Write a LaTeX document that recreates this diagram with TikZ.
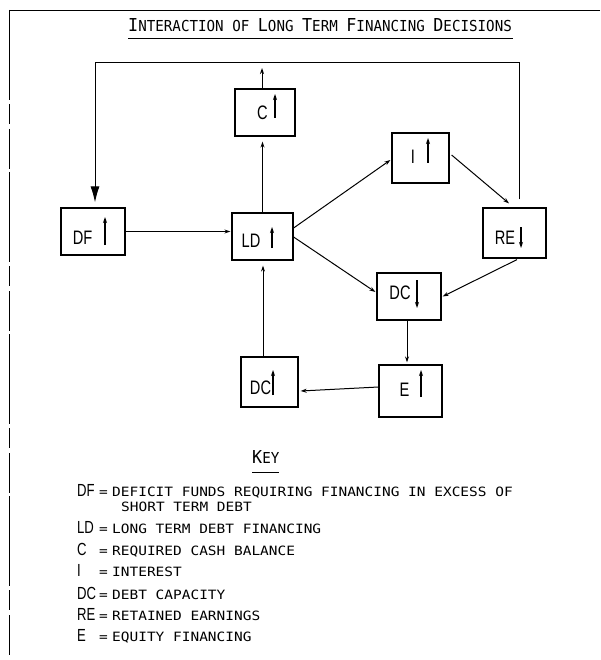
\documentclass[tikz,border=0pt]{standalone}
\usepackage{fontspec}
\setmainfont{Liberation Sans}
\newfontfamily\boxfont[FakeStretch=0.75]{Liberation Sans}
\newfontfamily\titlefont[FakeStretch=0.94]{DejaVu Sans Mono}
\newfontfamily\keyfont[FakeStretch=1.13]{DejaVu Sans Mono}
\usetikzlibrary{arrows.meta}
\newcommand\tbig[1]{{\fontsize{17.8}{18}\selectfont #1}}
\newcommand\tsm[1]{{\fontsize{15.1}{16}\selectfont #1}}
\newcommand\abbr[1]{\makebox[22pt][l]{\boxfont\fontsize{17.5}{17}\selectfont #1}\makebox[13pt][l]{=}}
\newcommand\gap[1]{\rule{#1}{0pt}}
\begin{document}
\begin{tikzpicture}[x=1pt,y=-1pt,
  bx/.style={draw,line width=1.2pt,inner sep=0pt,text height=14pt,text depth=0pt,
    font=\boxfont\fontsize{19.5}{19.5}\selectfont},
  conn/.style={line width=1pt,-{Stealth[length=6pt,width=4pt]}},
  inarr/.style={line width=1.1pt,-{Stealth[length=6pt,width=4pt]}},
  bigarr/.style={line width=1pt,-{Latex[length=16pt,width=9pt]}},
  keyline/.style={anchor=base west,inner sep=0pt,font=\keyfont\fontsize{12.8}{13}\selectfont},
  ttl/.style={anchor=base west,inner sep=0pt,font=\titlefont},
  frame/.style={line width=0.7pt}
]
\useasboundingbox (0,0) rectangle (600,660);
\fill[white] (0,0) rectangle (600,660);

% scan frame
\coordinate (f1) at (600,10);
\coordinate (f2) at (9,10);
\coordinate (f3) at (9,655);
\draw[frame] (f1) -- (f2);
\draw[frame,dash pattern=on 90pt off 4pt on 20pt off 5pt on 40pt off 3pt] (f2) -- (f3);

% title
\node[ttl] (title) at (128,32) {\tbig{I}\tsm{NTERACTION OF }\tbig{L}\tsm{ONG }\tbig{T}\tsm{ERM }\tbig{F}\tsm{INANCING }\tbig{D}\tsm{ECISIONS}};
\coordinate (u1) at (128,39);
\coordinate (u2) at (513,39);
\draw[line width=1pt] (u1) -- (u2);

% boxes
\node[bx,minimum width=60pt,minimum height=47pt] (C) at (265,112.5) {\raisebox{0pt}{C}\gap{5pt}};
\node[bx,minimum width=64pt,minimum height=47pt] (DF) at (93,231.5) {\raisebox{-6pt}{DF}\gap{21pt}};
\node[bx,minimum width=61pt,minimum height=47pt] (LD) at (262.5,236.5) {\raisebox{-4pt}{LD}\gap{23pt}};
\node[bx,minimum width=57pt,minimum height=50pt] (I) at (420.5,158) {\raisebox{1.5pt}{I}\gap{15pt}};
\node[bx,minimum width=63pt,minimum height=50pt] (RE) at (514.5,233) {\raisebox{-4.5pt}{RE}\gap{19pt}};
\node[bx,minimum width=64pt,minimum height=47pt] (DCd) at (409,296.5) {\raisebox{4pt}{DC}\gap{18pt}};
\node[bx,minimum width=63pt,minimum height=52pt] (E) at (410.5,391) {\raisebox{2pt}{E}\gap{12pt}};
\node[bx,minimum width=57pt,minimum height=50pt] (DCu) at (269.5,382) {\raisebox{-5.5pt}{DC}\gap{18pt}};

% arrows inside boxes
\draw[inarr] ([shift={(10,5.5)}]C.center) -- ++(0,-24);
\draw[inarr] ([shift={(12,13.5)}]DF.center) -- ++(0,-28);
\draw[inarr] ([shift={(9.5,11.5)}]LD.center) -- ++(0,-21);
\draw[inarr] ([shift={(7.5,5)}]I.center) -- ++(0,-25);
\draw[inarr] ([shift={(6.5,-6)}]RE.center) -- ++(0,21);
\draw[inarr] ([shift={(8,-16.5)}]DCd.center) -- ++(0,28);
\draw[inarr] ([shift={(10.5,6)}]E.center) -- ++(0,-27);
\draw[inarr] ([shift={(3.5,13)}]DCu.center) -- ++(0,-25);

% feedback loop
\coordinate (tr) at (519,63);
\coordinate (tl) at (95,63);
\draw[bigarr] ([shift={(4.5,-8)}]RE.north) -- (tr) -- (tl) -- ([shift={(2,-5)}]DF.north);

% C output
\coordinate (cout) at (262,68);
\draw[conn] ([xshift=-3pt]C.north) -- (cout);

% connectors
\draw[conn] (LD.north) -- ([shift={(-2.5,5)}]C.south);
\draw[conn] (DF.east) -- ([xshift=-1pt]DF.east -| LD.west);
\draw[conn] ([xshift=-6.5pt]DCu.north) -- ([shift={(0.5,5)}]LD.south);
\draw[conn] ([shift={(0,-8.5)}]LD.east) -- ([shift={(-1,2)}]I.west);
\draw[conn] ([shift={(0,0.5)}]LD.east) -- ([shift={(-1,-4.5)}]DCd.west);
\draw[conn] ([shift={(2,-3)}]I.east) -- ([shift={(-5.5,-4)}]RE.north);
\draw[conn] ([shift={(2.5,1)}]RE.south) -- ([shift={(1,0)}]DCd.east);
\draw[conn] ([xshift=-2pt]DCd.south) -- ([shift={(-3.5,-2)}]E.north);
\draw[conn] ([shift={(0,-4)}]E.west) -- ([xshift=2pt]E.west -| DCu.east);

% key
\node[ttl] (key) at (252,463) {\tbig{K}\tsm{EY}};
\coordinate (k1) at (252,472);
\coordinate (k2) at (279,472);
\draw[line width=1pt] (k1) -- (k2);

\node[keyline] (kDF) at (77,496.7) {\abbr{DF}DEFICIT FUNDS REQUIRING FINANCING IN EXCESS OF};
\node[keyline] (kDF2) at (121,511.7) {SHORT TERM DEBT};
\node[keyline] (kLD) at (77,533.3) {\abbr{LD}LONG TERM DEBT FINANCING};
\node[keyline] (kC) at (77,555) {\abbr{C}REQUIRED CASH BALANCE};
\node[keyline] (kI) at (77,576.7) {\abbr{I}INTEREST};
\node[keyline] (kDC) at (77,599.3) {\abbr{DC}DEBT CAPACITY};
\node[keyline] (kRE) at (77,620.7) {\abbr{RE}RETAINED EARNINGS};
\node[keyline] (kE) at (77,641.7) {\abbr{E}EQUITY FINANCING};
\end{tikzpicture}
\end{document}
